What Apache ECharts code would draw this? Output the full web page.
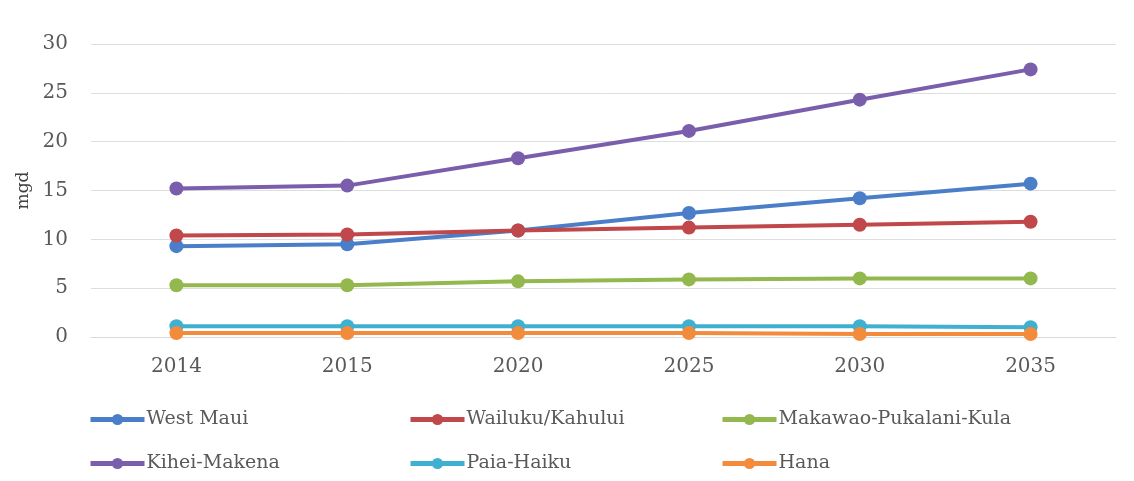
<!DOCTYPE html>
<html>
<head>
<meta charset="utf-8">
<script src="https://cdn.jsdelivr.net/npm/echarts@6/dist/echarts.min.js"></script>
<style>
  html, body { margin: 0; padding: 0; background: #ffffff; }
  #chart { width: 1134px; height: 481px; }
</style>
</head>
<body>
<div id="chart"></div>
<script>
// Projected water demand by district (million gallons per day)
const years = ['2014', '2015', '2020', '2025', '2030', '2035'];
const westMaui = [9.3, 9.5, 10.9, 12.7, 14.2, 15.7];
const wailukuKahului = [10.4, 10.5, 10.9, 11.2, 11.5, 11.8];
const makawaoPukalaniKula = [5.3, 5.3, 5.7, 5.9, 6.0, 6.0];
const kiheiMakena = [15.2, 15.5, 18.3, 21.1, 24.3, 27.4];
const paiaHaiku = [1.1, 1.1, 1.1, 1.1, 1.1, 1.0];
const hana = [0.4, 0.4, 0.4, 0.4, 0.3, 0.3];
const yTicks = [0, 5, 10, 15, 20, 25, 30];

const seriesDefs = [
  { name: 'West Maui', data: westMaui, color: '#4A7EC8' },
  { name: 'Wailuku/Kahului', data: wailukuKahului, color: '#C0474A' },
  { name: 'Makawao-Pukalani-Kula', data: makawaoPukalaniKula, color: '#93B84E' },
  { name: 'Kihei-Makena', data: kiheiMakena, color: '#7A5EAB' },
  { name: 'Paia-Haiku', data: paiaHaiku, color: '#3FB0CF' },
  { name: 'Hana', data: hana, color: '#F28C3C' }
];

const FONT = '"DejaVu Serif", "Liberation Serif", serif';
const TEXT = '#595959';

// legend slots: two rows of three columns
const legendPos = [
  { left: 88, top: 410 }, { left: 408, top: 410 }, { left: 720, top: 410 },
  { left: 88, top: 454 }, { left: 408, top: 454 }, { left: 720, top: 454 }
];

const chart = echarts.init(document.getElementById('chart'), null, { renderer: 'canvas' });

chart.setOption({
  animation: false,
  backgroundColor: '#ffffff',
  grid: { left: 91, right: 18, top: 44, bottom: 144, containLabel: false },
  legend: seriesDefs.map((s, i) => ({
    data: [s.name],
    left: legendPos[i].left,
    top: legendPos[i].top,
    itemWidth: 54,
    itemHeight: 14,
    itemGap: 0,
    padding: 0,
    selectedMode: false,
    lineStyle: { width: 5 },
    textStyle: { fontFamily: FONT, fontSize: 19, color: TEXT, padding: [0, 0, 0, -3] }
  })),
  xAxis: {
    type: 'category',
    data: years,
    boundaryGap: true,
    axisLine: { show: true, lineStyle: { color: '#d9d9d9', width: 1 } },
    axisTick: { show: false },
    axisLabel: { fontFamily: FONT, fontSize: 20, color: TEXT, margin: 20 }
  },
  yAxis: {
    type: 'value',
    min: yTicks[0],
    max: yTicks[yTicks.length - 1],
    interval: 5,
    name: 'mgd',
    nameLocation: 'middle',
    nameGap: 59,
    nameRotate: 90,
    nameTextStyle: { fontFamily: FONT, fontSize: 17, color: '#404040' },
    axisLine: { show: false },
    axisTick: { show: false },
    axisLabel: { fontFamily: FONT, fontSize: 20, color: TEXT, margin: 23 },
    splitLine: { show: true, lineStyle: { color: '#dedede', width: 1 } }
  },
  series: seriesDefs.map(s => ({
    name: s.name,
    type: 'line',
    data: s.data,
    symbol: 'circle',
    symbolSize: 14,
    lineStyle: { color: s.color, width: 4 },
    itemStyle: { color: s.color },
    emphasis: { disabled: true }
  }))
});
</script>
</body>
</html>
